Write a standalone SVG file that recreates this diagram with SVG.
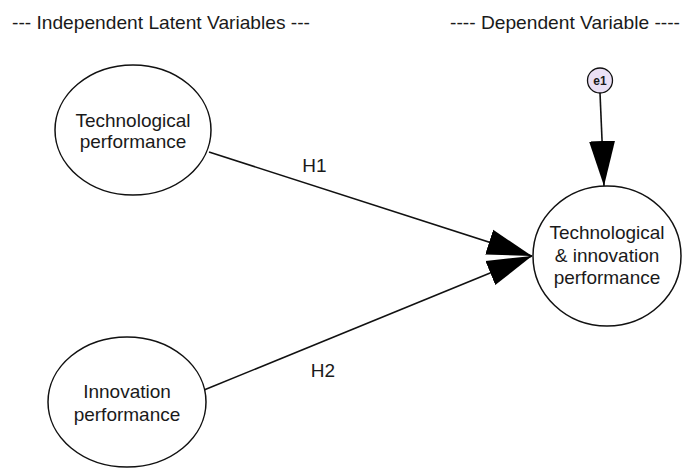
<svg xmlns="http://www.w3.org/2000/svg" width="683" height="469" viewBox="0 0 683 469">
<style>
text{font-family:"Liberation Sans",Arial,sans-serif;font-size:19px;fill:#1a1a1a;}
.node{fill:#fff;stroke:#111;stroke-width:1.5;}
.conn{stroke:#111;stroke-width:1.6;fill:none;}
</style>
<defs>
<marker id="ah" markerUnits="userSpaceOnUse" markerWidth="46" markerHeight="28" refX="45" refY="14" orient="auto" viewBox="0 0 46 28">
<path d="M0,1 L45,14 L0,27 z" fill="#000"/>
</marker>
</defs>
<rect width="683" height="469" fill="#fff"/>
<text x="12" y="29" textLength="298" lengthAdjust="spacingAndGlyphs">--- Independent Latent Variables ---</text>
<text x="450" y="29" textLength="230" lengthAdjust="spacingAndGlyphs">---- Dependent Variable ----</text>
<g id="connectors">
<line class="conn" x1="209" y1="152" x2="532" y2="256" marker-end="url(#ah)"/>
<line class="conn" x1="204" y1="390" x2="532" y2="256" marker-end="url(#ah)"/>
<line class="conn" x1="600" y1="93" x2="604" y2="186" marker-end="url(#ah)"/>
<text x="314.5" y="172" text-anchor="middle">H1</text>
<text x="323" y="377" text-anchor="middle">H2</text>
</g>
<g id="tech">
<ellipse class="node" cx="133" cy="130" rx="78" ry="65"/>
<text x="133" y="127" text-anchor="middle">Technological</text>
<text x="133" y="148" text-anchor="middle">performance</text>
</g>
<g id="innov">
<ellipse class="node" cx="127" cy="402" rx="79" ry="65"/>
<text x="127" y="398" text-anchor="middle">Innovation</text>
<text x="127" y="421" text-anchor="middle">performance</text>
</g>
<g id="dep">
<ellipse class="node" cx="607" cy="256" rx="74" ry="70"/>
<text x="607" y="239" text-anchor="middle">Technological</text>
<text x="607" y="262" text-anchor="middle">&amp; innovation</text>
<text x="607" y="284" text-anchor="middle">performance</text>
</g>
<g id="e1">
<circle cx="600" cy="80.5" r="12.5" fill="#ebe0f5" stroke="#111" stroke-width="1.3"/>
<text x="600" y="85" text-anchor="middle" style="font-size:12px;font-weight:bold">e1</text>
</g>
</svg>
